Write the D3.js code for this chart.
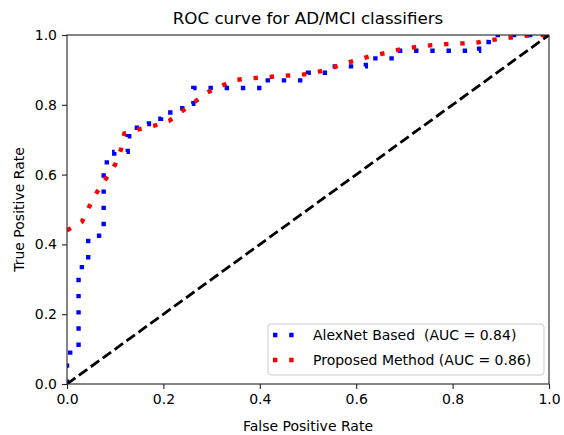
<!DOCTYPE html>
<html>
<head>
<meta charset="utf-8">
<script src="https://cdn.jsdelivr.net/npm/d3@7"></script>
<style>
  body { margin: 0; background: #fff; }
  text { font-family: "DejaVu Sans", sans-serif; fill: #000; }
</style>
</head>
<body>
<script>
// ROC curve points (fpr, tpr)
const alexnetRoc = [
  [0, 0], [0, 0.09], [0.024, 0.09], [0.024, 0.335], [0.044, 0.335], [0.044, 0.425],
  [0.076, 0.425], [0.076, 0.635], [0.098, 0.635], [0.098, 0.665], [0.126, 0.665],
  [0.126, 0.71], [0.145, 0.71], [0.145, 0.745], [0.17, 0.745], [0.17, 0.76],
  [0.195, 0.76], [0.195, 0.778], [0.22, 0.778], [0.22, 0.79], [0.245, 0.79],
  [0.245, 0.803], [0.262, 0.803], [0.262, 0.848], [0.41, 0.848], [0.41, 0.87],
  [0.5, 0.87], [0.5, 0.892], [0.54, 0.892], [0.54, 0.91], [0.62, 0.91], [0.62, 0.933],
  [0.68, 0.933], [0.68, 0.955], [0.855, 0.955], [0.855, 0.98], [0.875, 0.98],
  [0.875, 1], [1, 1]
];
const proposedRoc = [
  [0, 0.44], [0.031, 0.465], [0.046, 0.508], [0.062, 0.549], [0.081, 0.589],
  [0.1, 0.629], [0.112, 0.672], [0.119, 0.718], [0.15, 0.73], [0.181, 0.74],
  [0.212, 0.754], [0.238, 0.781], [0.264, 0.807], [0.29, 0.835], [0.32, 0.854],
  [0.349, 0.871], [0.382, 0.876], [0.414, 0.879], [0.445, 0.883], [0.477, 0.885],
  [0.509, 0.89], [0.54, 0.901], [0.571, 0.916], [0.601, 0.928], [0.631, 0.94],
  [0.663, 0.949], [0.692, 0.959], [0.726, 0.966], [0.757, 0.971], [0.789, 0.974],
  [0.822, 0.976], [0.853, 0.979], [0.884, 0.986], [0.915, 0.992], [0.945, 0.997],
  [0.976, 1.0], [1, 1]
];
const chanceLine = [[0, 0], [1, 1]];
const legendLabels = ["AlexNet Based  (AUC = 0.84)", "Proposed Method (AUC = 0.86)"];
const tickValues = [0, 0.2, 0.4, 0.6, 0.8, 1.0];

const w = 564;
const h = 435;
const pad = { left: 67, right: 549, top: 35, bottom: 384 };

const xScale = d3.scaleLinear().domain([0, 1]).range([pad.left, pad.right]);
const yScale = d3.scaleLinear().domain([0, 1]).range([pad.bottom, pad.top]);

const svg = d3.select("body")
  .append("svg")
  .attr("width", w)
  .attr("height", h);

svg.append("defs").append("clipPath")
  .attr("id", "plot")
  .append("rect")
  .attr("x", pad.left).attr("y", pad.top)
  .attr("width", pad.right - pad.left).attr("height", pad.bottom - pad.top);

const line = d3.line()
  .x((d) => xScale(d[0]))
  .y((d) => yScale(d[1]));

const curves = svg.append("g").attr("clip-path", "url(#plot)");

curves.append("path")
  .attr("d", line(alexnetRoc))
  .attr("fill", "none")
  .attr("stroke", "#0000ff")
  .attr("stroke-width", 4.4)
  .attr("stroke-dasharray", "4.4,11.8");

curves.append("path")
  .attr("d", line(proposedRoc))
  .attr("fill", "none")
  .attr("stroke", "#ff0000")
  .attr("stroke-width", 4.4)
  .attr("stroke-dasharray", "4.4,11.8");

curves.append("path")
  .attr("d", line(chanceLine))
  .attr("fill", "none")
  .attr("stroke", "#000")
  .attr("stroke-width", 2.8)
  .attr("stroke-dasharray", "10.3,4.4");

// axes
const xAxis = d3.axisBottom(xScale).tickValues(tickValues).tickFormat(d3.format(".1f")).tickSize(5).tickPadding(5);
const yAxis = d3.axisLeft(yScale).tickValues(tickValues).tickFormat(d3.format(".1f")).tickSize(5).tickPadding(5);

svg.append("g")
  .attr("transform", "translate(0," + pad.bottom + ")")
  .call(xAxis)
  .call((g) => g.select(".domain").remove());

svg.append("g")
  .attr("transform", "translate(" + pad.left + ",0)")
  .call(yAxis)
  .call((g) => g.select(".domain").remove());

svg.selectAll(".tick line").attr("stroke", "#222").attr("stroke-width", 1.1);
svg.selectAll(".tick text").style("font-size", "14px").attr("fill", "#000");

svg.append("rect")
  .attr("x", pad.left).attr("y", pad.top)
  .attr("width", pad.right - pad.left).attr("height", pad.bottom - pad.top)
  .attr("fill", "none")
  .attr("stroke", "#222")
  .attr("stroke-width", 1.1);

// labels
svg.append("text")
  .attr("x", (pad.left + pad.right) / 2).attr("y", 24)
  .attr("text-anchor", "middle")
  .style("font-size", "16.7px")
  .text("ROC curve for AD/MCI classifiers");

svg.append("text")
  .attr("x", (pad.left + pad.right) / 2).attr("y", 431)
  .attr("text-anchor", "middle")
  .style("font-size", "14px")
  .text("False Positive Rate");

svg.append("text")
  .attr("transform", "translate(24," + ((pad.top + pad.bottom) / 2) + ") rotate(-90)")
  .attr("text-anchor", "middle")
  .style("font-size", "14px")
  .text("True Positive Rate");

// legend
const legend = svg.append("g");
legend.append("rect")
  .attr("x", 268).attr("y", 324)
  .attr("width", 276).attr("height", 51)
  .attr("rx", 3)
  .attr("fill", "#fff").attr("fill-opacity", 0.8)
  .attr("stroke", "#ccc").attr("stroke-width", 1);

const legendColors = ["#0000ff", "#ff0000"];
legendLabels.forEach((label, i) => {
  const cy = 335 + i * 25;
  legend.append("line")
    .attr("x1", 273).attr("x2", 301)
    .attr("y1", cy).attr("y2", cy)
    .attr("stroke", legendColors[i])
    .attr("stroke-width", 4.4)
    .attr("stroke-dasharray", "4.4,11.8");
  legend.append("text")
    .attr("x", 313).attr("y", cy + 5)
    .style("font-size", "14px")
    .style("white-space", "pre")
    .text(label);
});
</script>
</body>
</html>
